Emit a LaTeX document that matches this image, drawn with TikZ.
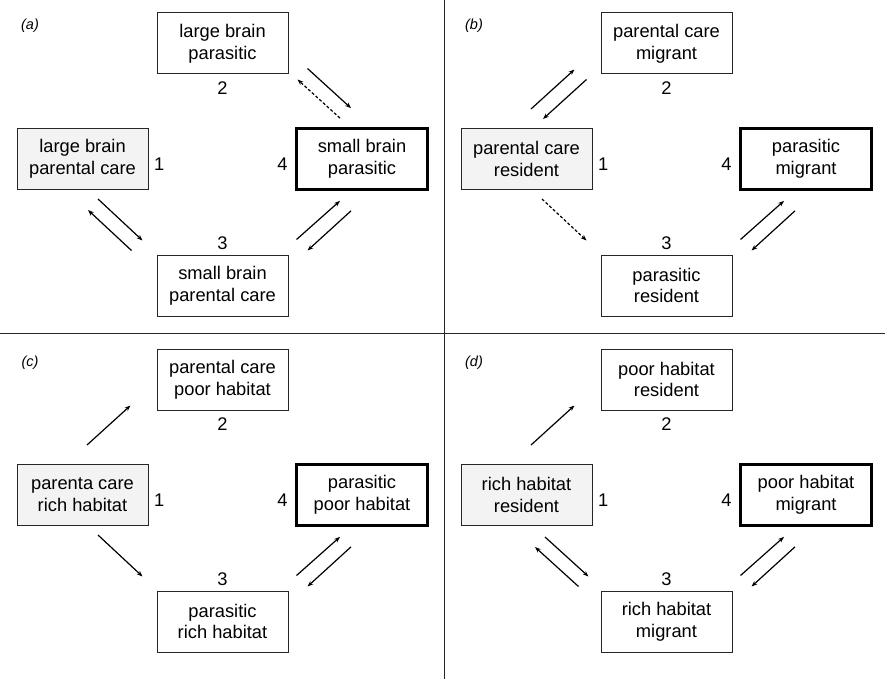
\documentclass[tikz,border=0pt]{standalone}
\usepackage{fontspec}
\setmainfont{Liberation Sans}
\usetikzlibrary{calc,arrows.meta,positioning}

\definecolor{startgray}{HTML}{F3F3F3}
\newcommand\statefont{\fontsize{18.3}{21.7}\selectfont}
\newcommand\tagfont{\fontsize{14.5}{17}\selectfont\itshape}

\tikzset{
  state/.style={draw=black!85, line width=1pt, minimum width=131pt, minimum height=61pt,
    inner sep=0pt, align=center, font=\statefont},
  start/.style={state, fill=startgray},
  goal/.style={state, draw=black, line width=2.7pt},
  num/.style={font=\statefont, inner sep=3.3pt},
  tag/.style={font=\tagfont},
  arr/.style={-{Stealth[length=6pt,width=4.5pt]}, line width=1.2pt},
  weak/.style={arr, dash pattern=on 3pt off 2pt},
  rule/.style={line width=1.3pt, black!85}
}

\begin{document}
\begin{tikzpicture}[x=1pt,y=-1pt]
  \useasboundingbox (0,0) rectangle (885,679);

  % dividers
  \draw[rule] (444.3,0) -- (444.3,679);
  \draw[rule] (0,333.3) -- (885,333.3);

  % (a)
  \begin{scope}
    \node[tag] (aT) at (30,26) {(a)};
    \node[start] (a1) at (82.5,159) {large brain\\parental care};
    \node[state] (a2) at (222.5,43.5) {large brain\\parasitic};
    \node[state] (a3) at (222.5,285.5) {small brain\\parental care};
    \node[goal]  (a4) at (362,159) {small brain\\parasitic};
    \node[num, right=2pt of a1.east, yshift=-5.5pt] (a1n) {1};
    \node[num, below=3.8pt of a2.south] (a2n) {2};
    \node[num, above=1.5pt of a3.north] (a3n) {3};
    \node[num, left=4pt of a4.west, yshift=-5.5pt] (a4n) {4};
    \draw[arr] ($(a1.south)+(15.5,9)$) -- ($(a3.north west)+(-14,-14)$);
    \draw[arr] ($(a3.north west)+(-25,-4)$) -- ($(a1.south)+(5.5,20)$);
    \draw[arr] ($(a2.south east)+(19,-6)$) -- ($(a4.north)+(-11,-19)$);
    \draw[weak] ($(a4.north)+(-22,-9)$) -- ($(a2.south east)+(9,5)$);
    \draw[arr] ($(a3.north east)+(8,-15)$) -- ($(a4.south)+(-22,10)$);
    \draw[arr] ($(a4.south)+(-11,20)$) -- ($(a3.north east)+(19,-4)$);
  \end{scope}

  % (b)
  \begin{scope}[shift={(444,0)}]
    \node[tag] (bT) at (30,26) {(b)};
    \node[start] (b1) at (82.5,159) {parental care\\resident};
    \node[state] (b2) at (222.5,43.5) {parental care\\migrant};
    \node[state] (b3) at (222.5,285.5) {parasitic\\resident};
    \node[goal]  (b4) at (362,159) {parasitic\\migrant};
    \node[num, right=2pt of b1.east, yshift=-5.5pt] (b1n) {1};
    \node[num, below=3.8pt of b2.south] (b2n) {2};
    \node[num, above=1.5pt of b3.north] (b3n) {3};
    \node[num, left=4pt of b4.west, yshift=-5.5pt] (b4n) {4};
    \draw[arr] ($(b1.north)+(4.5,-19)$) -- ($(b2.south west)+(-26,-5)$);
    \draw[arr] ($(b2.south west)+(-14,5)$) -- ($(b1.north)+(16.5,-9)$);
    \draw[weak] ($(b1.south)+(15.5,9)$) -- ($(b3.north west)+(-14,-14)$);
    \draw[arr] ($(b3.north east)+(8,-15)$) -- ($(b4.south)+(-22,10)$);
    \draw[arr] ($(b4.south)+(-11,20)$) -- ($(b3.north east)+(19,-4)$);
  \end{scope}

  % (c)
  \begin{scope}[shift={(0,336)}]
    \node[tag] (cT) at (30,27) {(c)};
    \node[start] (c1) at (82.5,159) {parenta care\\rich habitat};
    \node[state] (c2) at (222.5,43.5) {parental care\\poor habitat};
    \node[state] (c3) at (222.5,285.5) {parasitic\\rich habitat};
    \node[goal]  (c4) at (362,159) {parasitic\\poor habitat};
    \node[num, right=2pt of c1.east, yshift=-5.5pt] (c1n) {1};
    \node[num, below=3.8pt of c2.south] (c2n) {2};
    \node[num, above=1.5pt of c3.north] (c3n) {3};
    \node[num, left=4pt of c4.west, yshift=-5.5pt] (c4n) {4};
    \draw[arr] ($(c1.north)+(4.5,-19)$) -- ($(c2.south west)+(-26,-5)$);
    \draw[arr] ($(c1.south)+(15.5,9)$) -- ($(c3.north west)+(-14,-14)$);
    \draw[arr] ($(c3.north east)+(8,-15)$) -- ($(c4.south)+(-22,10)$);
    \draw[arr] ($(c4.south)+(-11,20)$) -- ($(c3.north east)+(19,-4)$);
  \end{scope}

  % (d)
  \begin{scope}[shift={(444,336)}]
    \node[tag] (dT) at (30,27) {(d)};
    \node[start] (d1) at (82.5,159) {rich habitat\\resident};
    \node[state] (d2) at (222.5,43.5) {poor habitat\\resident};
    \node[state] (d3) at (222.5,285.5) {rich habitat\\migrant};
    \node[goal]  (d4) at (362,159) {poor habitat\\migrant};
    \node[num, right=2pt of d1.east, yshift=-5.5pt] (d1n) {1};
    \node[num, below=3.8pt of d2.south] (d2n) {2};
    \node[num, above=1.5pt of d3.north] (d3n) {3};
    \node[num, left=4pt of d4.west, yshift=-5.5pt] (d4n) {4};
    \draw[arr] ($(d1.north)+(4.5,-19)$) -- ($(d2.south west)+(-26,-5)$);
    \draw[arr] ($(d1.south)+(18.5,11)$) -- ($(d3.north west)+(-12,-14)$);
    \draw[arr] ($(d3.north west)+(-22,-4)$) -- ($(d1.south)+(8.5,21)$);
    \draw[arr] ($(d3.north east)+(8,-15)$) -- ($(d4.south)+(-22,10)$);
    \draw[arr] ($(d4.south)+(-11,20)$) -- ($(d3.north east)+(19,-4)$);
  \end{scope}
\end{tikzpicture}
\end{document}
